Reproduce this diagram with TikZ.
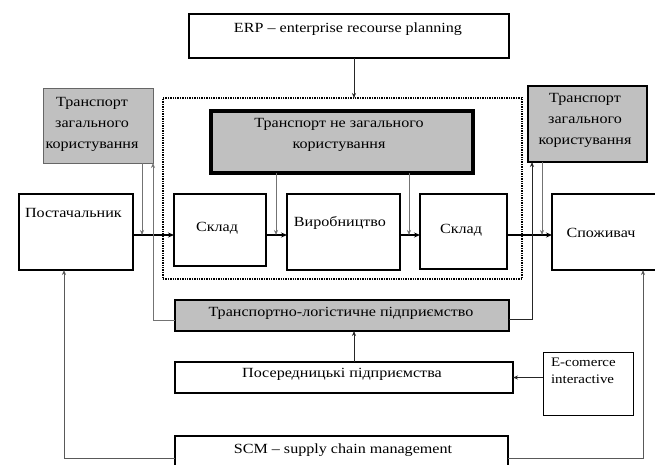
\documentclass[tikz,border=0pt]{standalone}
\usepackage{fontspec}
\setmainfont[FakeStretch=1.15]{Liberation Serif}
\usetikzlibrary{arrows.meta}
\definecolor{boxgray}{RGB}{192,192,192}
\begin{document}
\begin{tikzpicture}[x=1pt,y=-1pt,
  every node/.style={inner sep=0pt, outer sep=0pt},
  box/.style={draw=black, line width=1.3pt, fill=white, anchor=north west},
  gbox/.style={box, fill=boxgray},
  txt/.style={font=\fontsize{14}{21}\selectfont, align=center},
  flow/.style={draw=black, line width=1.6pt, -{Stealth[length=6pt,width=5pt]}},
  conn/.style={draw=black!85, line width=1pt, -{Stealth[length=5pt,width=4pt]}},
  feed/.style={draw=black!55, line width=1pt, -{Stealth[length=5pt,width=4pt]}},
  frm/.style={draw=black, densely dotted, line width=1.4pt, anchor=north west},
]
\useasboundingbox (0,0) rectangle (655,464);
\clip (0,0) rectangle (655,464);
\fill[white] (0,0) rectangle (655,464);

% frame
\node[frm, minimum width=359pt, minimum height=181pt] (frame) at (163,98) {};

% boxes
\node[box, minimum width=320pt, minimum height=44pt] (erp) at (189,14) {};
\node[gbox, draw=black!60, line width=1pt, minimum width=110pt, minimum height=75pt] (tl) at (43,88) {};
\node[gbox, minimum width=119pt, minimum height=76pt] (tr) at (528,86) {};
\node[gbox, line width=3.5pt, minimum width=262pt, minimum height=62pt] (tn) at (211,111) {};
\node[box, minimum width=114pt, minimum height=76pt] (post) at (19,194) {};
\node[box, minimum width=92pt, minimum height=72pt] (s1) at (174,194) {};
\node[box, minimum width=113pt, minimum height=76pt] (vyr) at (287,194) {};
\node[box, minimum width=87pt, minimum height=75pt] (s2) at (420,194) {};
\node[box, minimum width=130pt, minimum height=76pt] (spoz) at (552,194) {};
\node[gbox, minimum width=334pt, minimum height=31pt] (tlp) at (175,300) {};
\node[box, minimum width=338pt, minimum height=31pt] (pos) at (175,362) {};
\node[box, line width=1pt, minimum width=90pt, minimum height=63pt] (ec) at (543,352) {};
\node[box, minimum width=333pt, minimum height=44pt] (scm) at (175,436) {};

% coordinates
\coordinate (ml) at (0,235);
\coordinate (erpA) at ([xshift=5pt]erp.south);
\coordinate (tlA) at ([xshift=-11pt]tl.south east);
\coordinate (tlpW) at ([yshift=-4.5pt]tlp.west);
\coordinate (tlpE) at ([yshift=-3.5pt]tlp.east);
\coordinate (trA) at ([xshift=4pt]tr.south west);
\coordinate (trB) at ([xshift=14pt]tr.south west);
\coordinate (tnA) at ([xshift=65pt]tn.south west);
\coordinate (tnB) at ([xshift=-64pt]tn.south east);
\coordinate (posA) at ([xshift=10pt]pos.north);
\coordinate (postA) at ([xshift=-12pt]post.south);
\coordinate (spozA) at ([xshift=91pt]spoz.south west);

% connectors
\draw[conn] (erpA) -- (erpA |- frame.north);
\draw[flow] (post.east |- ml) -- (s1.west |- ml);
\draw[flow] (s1.east |- ml) -- (vyr.west |- ml);
\draw[flow] (vyr.east |- ml) -- (s2.west |- ml);
\draw[flow] (s2.east |- ml) -- (spoz.west |- ml);
\draw[feed] (tlA) -- (tlA |- ml);
\draw[feed] (tlpW) -| (tl.south east);
\draw[conn] (tlpE) -| (trA);
\draw[feed] (trB) -- (trB |- ml);
\draw[feed] (tnA) -- (tnA |- ml);
\draw[feed] (tnB) -- (tnB |- ml);
\draw[conn] (posA) -- (posA |- tlp.south);
\draw[conn] (ec.west |- pos.east) -- (pos.east);
\draw[feed, draw=black!65] (scm.west) -| (postA);
\draw[feed, draw=black!65] (scm.east) -| (spozA);

% texts
\node[txt] (terp) at (348,29) {ERP – enterprise recourse planning};
\node[txt] (ttl) at (92,124) {Транспорт\\загального\\користування};
\node[txt] (ttr) at (585,120) {Транспорт\\загального\\користування};
\node[txt] (ttn) at (339,135) {Транспорт не загального\\користування};
\node[txt, anchor=west] (tpost) at (25,213) {Постачальник};
\node[txt] (ts1) at (217,228) {Склад};
\node[txt] (tvyr) at (340,223) {Виробництво};
\node[txt] (ts2) at (461,230) {Склад};
\node[txt] (tspoz) at (601,233) {Споживач};
\node[txt] (ttlp) at (341,313) {Транспортно-логістичне підприємство};
\node[txt] (tpos) at (342,374) {Посередницькі підприємства};
\node[txt, align=left, anchor=north west, font=\fontsize{13}{17}\selectfont] (tec) at (551,358) {E-comerce\\interactive};
\node[txt] (tscm) at (343,450) {SCM – supply chain management};
\end{tikzpicture}
\end{document}
